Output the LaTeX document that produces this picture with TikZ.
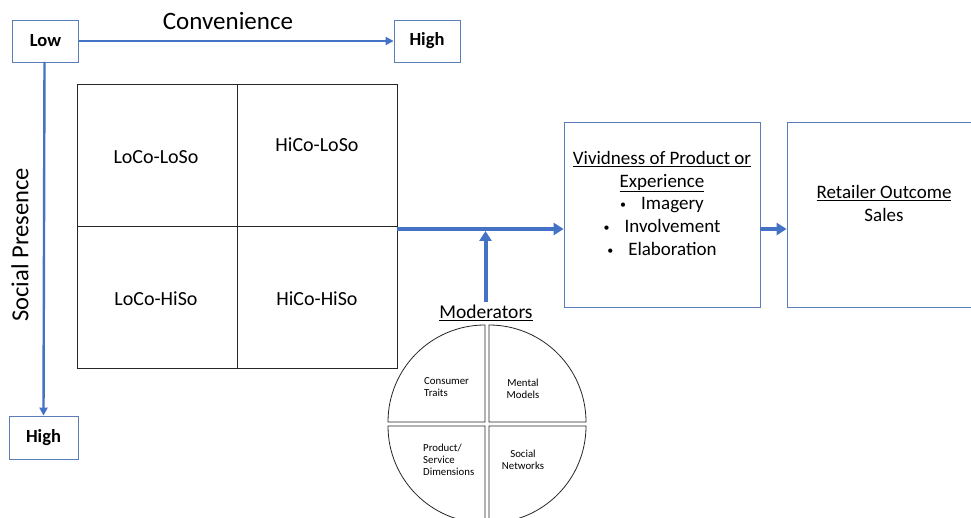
\documentclass[tikz,border=0pt]{standalone}
\usepackage{fontspec}
\setmainfont{Carlito}
\usetikzlibrary{arrows.meta}
\definecolor{ablue}{HTML}{4472C4}
\definecolor{bbox}{HTML}{5B7DB8}
\newcommand{\smbul}{\raisebox{1pt}{\fontsize{12}{12}\selectfont\textbullet}\hspace{15pt}}
\begin{document}
\begin{tikzpicture}[x=1pt,y=-1pt,
  endbox/.style={draw=bbox,line width=0.8pt,minimum width=66pt,minimum height=42pt,inner sep=0pt,font=\fontsize{18.5}{20}\selectfont\bfseries},
  cell/.style={draw=black!85,line width=0.8pt,minimum width=160pt,minimum height=142pt,inner sep=0pt},
  bigbox/.style={draw=bbox,line width=0.8pt,minimum width=196pt,minimum height=185pt,inner sep=0pt},
  thin/.style={draw=ablue,line width=2.4pt,-{Triangle[length=8pt,width=8pt]}},
  thick/.style={draw=ablue,line width=4pt,-{Triangle[length=10pt,width=12pt]}},
  lbl/.style={font=\fontsize{20}{24}\selectfont,inner sep=0pt},
  qtext/.style={font=\fontsize{10.8}{12}\selectfont,align=left,inner sep=0pt},
  sector/.style={draw=black!85,line width=0.8pt,fill=white}]
\clip (0,0) rectangle (971,518);
\fill[white] (0,0) rectangle (971,518);

% Convenience axis
\node[endbox] (low) at (45.5,41) {Low};
\node[endbox] (highc) at (427,41) {High};
\node[endbox,minimum width=69pt,minimum height=43pt] (highs) at (43.5,437.5) {High};
\node[font=\fontsize{25}{30}\selectfont,inner sep=0pt] (conv) at (228,21) {Convenience};
\node[font=\fontsize{24.5}{28}\selectfont,rotate=90,inner sep=0pt] (soc) at (20,245) {Social Presence};
\draw[thin] (low.east) -- (highc.west);
\coordinate (lowb) at (44.5,62);
\draw[thin] (lowb) -- (highs.north);

% Grid
\node[cell] (c11) at (157,155) {};
\node[cell] (c12) at (317,155) {};
\node[cell] (c21) at (157,297) {};
\node[cell] (c22) at (317,297) {};
\node[lbl] at (156,157) {LoCo-LoSo};
\node[lbl] at (317,145) {HiCo-LoSo};
\node[lbl] at (156,299) {LoCo-HiSo};
\node[lbl] at (317,299) {HiCo-HiSo};

% Right boxes
\node[bigbox] (viv) at (662,214.5) {};
\node[draw=bbox,line width=0.8pt,minimum width=200pt,minimum height=185pt,inner sep=0pt] (ret) at (887,214.5) {};
\node[font=\fontsize{19}{22.7}\selectfont,align=center,inner sep=0pt,anchor=north] (vivt) at (662,151)
  {\underline{Vividness of Product or}\\\underline{Experience}\\
   \smbul Imagery\\
   \smbul Involvement\\
   \smbul Elaboration};
\node[font=\fontsize{19}{22.7}\selectfont,align=center,inner sep=0pt,anchor=north] (rett) at (884,185)
  {\underline{Retailer Outcome}\\Sales};

% Flow arrows
\coordinate (gridout) at (396.5,229);
\draw[thick] (gridout) -- (viv.west |- gridout);
\draw[thick] (viv.east |- gridout) -- (ret.west |- gridout);

% Moderators
\node[font=\fontsize{19.5}{22}\selectfont,inner sep=0pt] (mod) at (486,313) {\underline{Moderators}};
\coordinate (jn) at (485.5,231);
\draw[thick] (mod.north -| jn) ++(0,-3) -- (jn);

% Pie
\def\R{97}
\draw[sector] (485,422) -- ++(-\R,0) arc[start angle=180,end angle=270,radius=\R] -- cycle;
\draw[sector] (489,422) -- ++(0,-\R) arc[start angle=270,end angle=360,radius=\R] -- cycle;
\draw[sector] (485,426) -- ++(0,\R) arc[start angle=90,end angle=180,radius=\R] -- cycle;
\draw[sector] (489,426) -- ++(\R,0) arc[start angle=0,end angle=90,radius=\R] -- cycle;
\node[qtext,anchor=west] (q1) at (424,387.5) {Consumer\\Traits};
\node[qtext,align=center] (q2) at (523,388.5) {Mental\\Models};
\node[qtext,anchor=west] (q3) at (423,460) {Product/\\Service\\Dimensions};
\node[qtext,align=center] (q4) at (523,460) {Social\\Networks};
\end{tikzpicture}
\end{document}
